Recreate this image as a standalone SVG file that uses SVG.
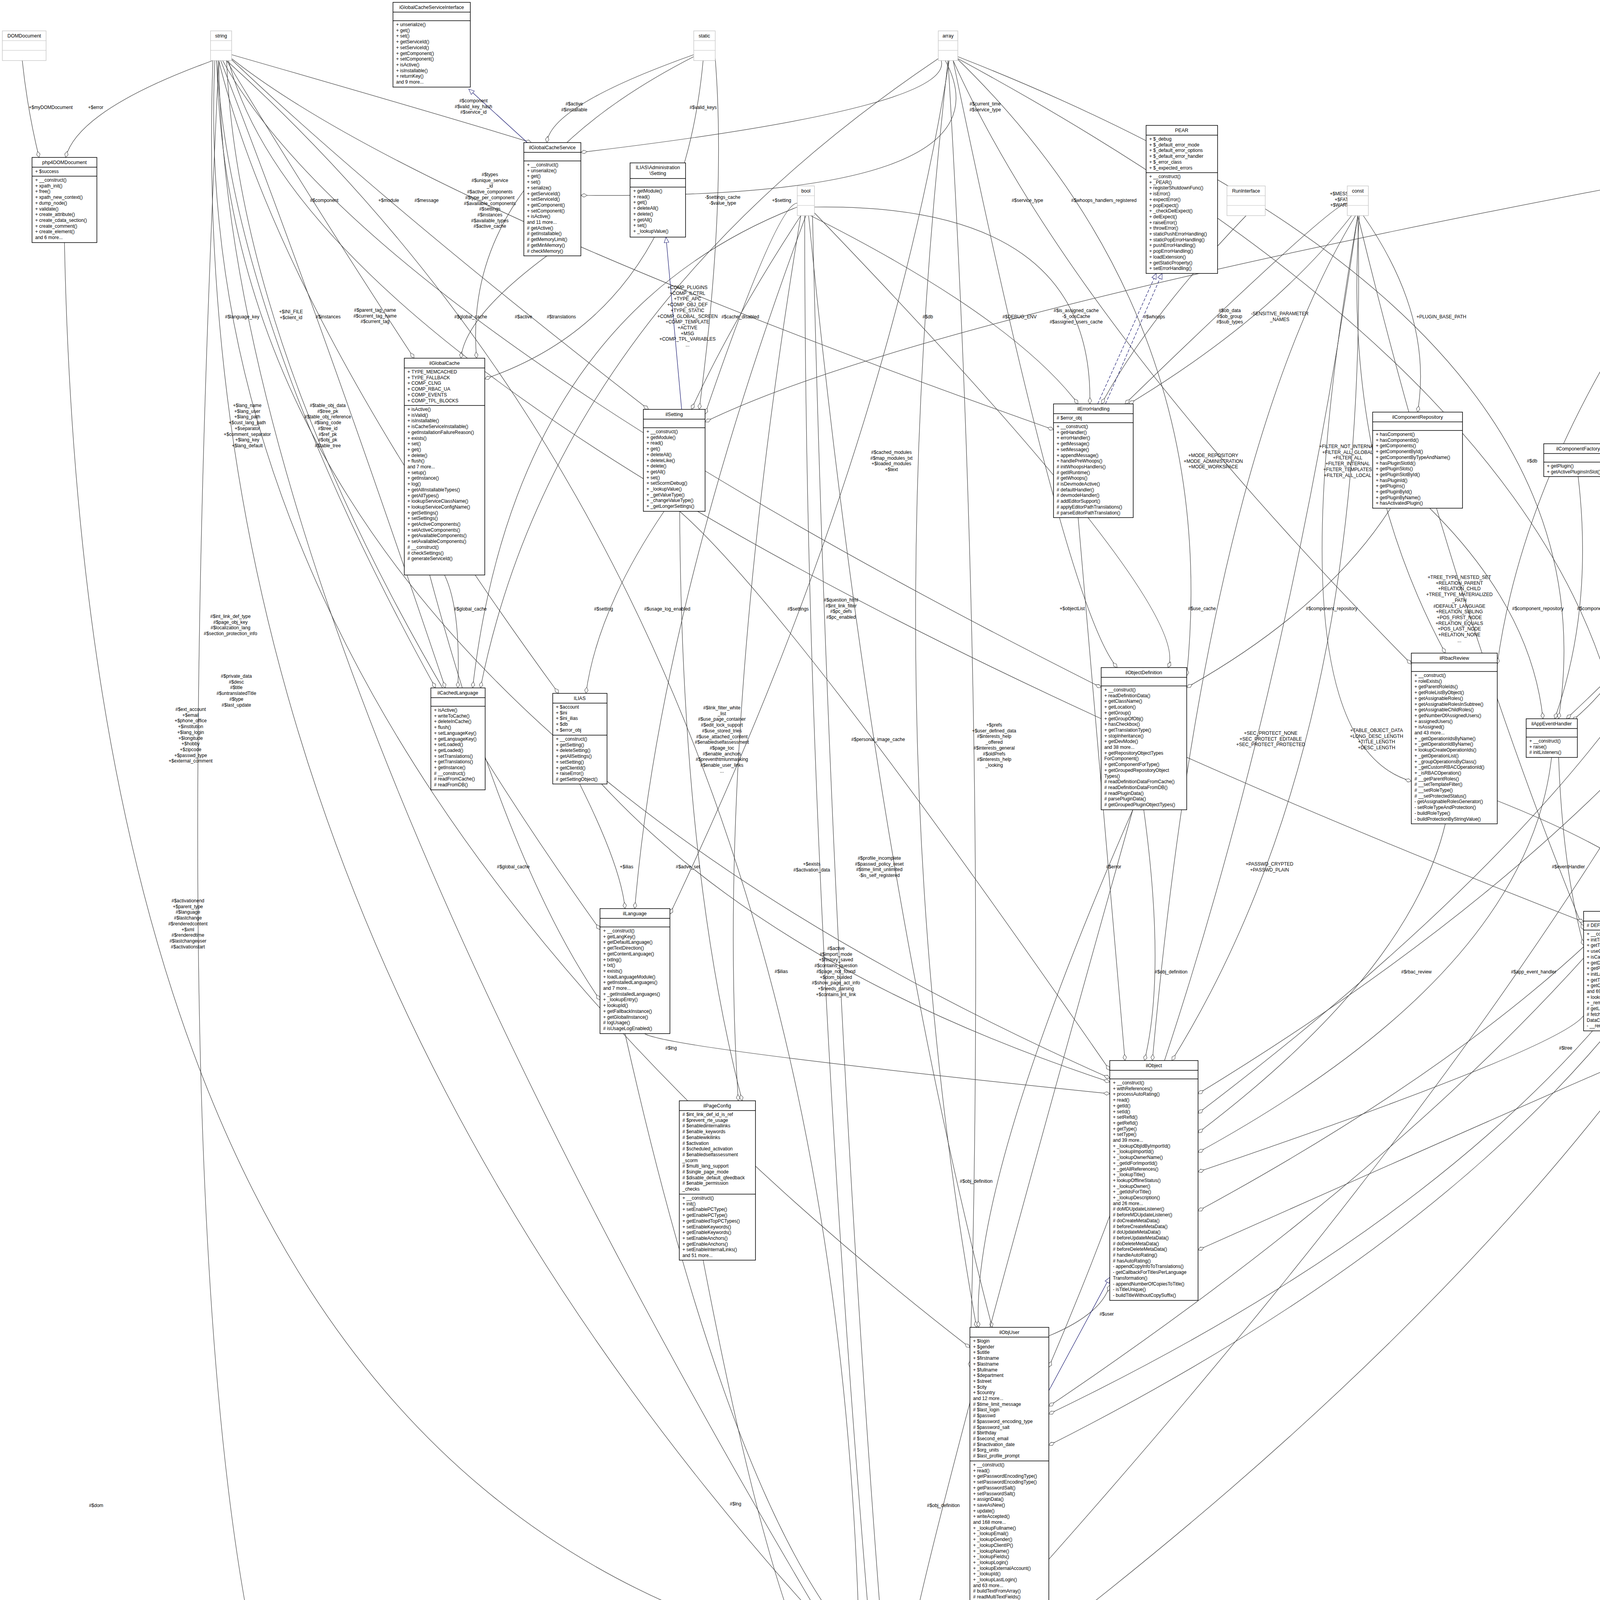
<svg xmlns="http://www.w3.org/2000/svg" width="5668" height="4920" viewBox="0 0 5668 4920">
<style>
.b{fill:#fff;stroke:#000;stroke-width:1.5}
.g{fill:#fff;stroke:#bfbfbf;stroke-width:1.2}
.sep{fill:none;stroke:#000;stroke-width:1.5}
.sepg{fill:none;stroke:#bfbfbf;stroke-width:1.2}
.t{font-family:"Liberation Sans",Arial,sans-serif;font-size:12.5px;text-anchor:middle;fill:#000}
.m{font-family:"Liberation Sans",Arial,sans-serif;font-size:12px;fill:#000}
.l{font-family:"Liberation Sans",Arial,sans-serif;font-size:12px;text-anchor:middle;fill:#000}
.e{fill:none;stroke:#404040;stroke-width:1.2;marker-end:url(#d)}
.i{fill:none;stroke:#191970;stroke-width:1.2;marker-end:url(#tr)}
</style>
<defs>
<marker id="d" markerWidth="18" markerHeight="12" refX="17" refY="6" orient="auto" markerUnits="userSpaceOnUse"><path d="M1,6 L9,1.5 L17,6 L9,10.5 Z" fill="#fff" stroke="#404040"/></marker>
<marker id="tr" markerWidth="16" markerHeight="14" refX="15" refY="7" orient="auto" markerUnits="userSpaceOnUse"><path d="M1,1 L15,7 L1,13 Z" fill="#fff" stroke="#191970"/></marker>
</defs>
<rect width="5668" height="4920" fill="#fff"/>

<g id="connectors">
<path class="e" d="M57,155 Q70,280 100,403"/>
<path class="e" d="M545,155 Q200,280 168,403"/>
<path class="e" d="M593,140 Q1150,300 1360,365"/>
<path class="e" d="M1776,140 Q1410,270 1400,365"/>
<path class="e" d="M1776,145 Q1180,450 1220,917"/>
<path class="e" d="M580,155 Q800,520 1060,917"/>
<path class="e" d="M590,150 Q980,520 1660,1048"/>
<path class="e" d="M593,150 Q1060,520 2697,1100"/>
<path class="e" d="M1831,150 Q1860,520 1790,1048"/>
<path class="e" d="M555,155 Q590,811 1115,1761"/>
<path class="e" d="M560,155 Q720,805 1430,1775"/>
<path class="e" d="M565,155 Q820,811 1140,1761"/>
<path class="e" d="M570,155 Q930,810 2819,1760"/>
<path class="e" d="M1138,1472 Q1180,1559 1172,1761"/>
<path class="e" d="M2041,530 Q1320,811 1210,1761"/>
<path class="e" d="M2402,150 Q1420,811 1230,1761"/>
<path class="e" d="M1800,155 Q1740,800 1241,970"/>
<path class="e" d="M2402,140 Q2500,270 1487,390"/>
<path class="e" d="M2041,520 Q1990,520 1805,1060"/>
<path class="e" d="M2420,155 Q2610,513 1487,500"/>
<path class="e" d="M2085,530 Q2800,520 2790,1034"/>
<path class="e" d="M3449,520 Q3420,511 2880,1034"/>
<path class="e" d="M2050,552 Q1880,811 1770,1048"/>
<path class="e" d="M4290,450 Q2360,811 1805,1080"/>
<path class="e" d="M2075,552 Q2590,811 2760,1034"/>
<path class="e" d="M2440,155 Q2735,810 3613,1700"/>
<path class="e" d="M3190,552 Q2940,811 2820,1034"/>
<path class="e" d="M2450,150 Q3130,810 3038,1730"/>
<path class="e" d="M3460,552 Q3260,810 2890,1034"/>
<path class="e" d="M3490,552 Q3670,811 3629,1055"/>
<path class="e" d="M2430,155 Q2265,1180 1715,2340"/>
<path class="e" d="M3470,552 Q3090,1180 2950,2715"/>
<path class="e" d="M3480,552 Q3435,1180 3700,1672"/>
<path class="e" d="M2452,145 Q4150,811 3990,1840"/>
<path class="e" d="M4581,552 Q4590,811 4567,1070"/>
<path class="e" d="M4300,634 Q3905,1180 3833,1700"/>
<path class="e" d="M4380,634 Q4250,1180 4120,2333"/>
<path class="e" d="M2452,150 Q4355,1180 4150,2333"/>
<path class="e" d="M4800,155 Q4685,1180 4250,2360"/>
<path class="e" d="M1400,655 Q1190,811 1180,917"/>
<path class="e" d="M1700,1309 Q1530,1559 1500,1775"/>
<path class="e" d="M2063,552 Q1690,1559 1625,2326"/>
<path class="e" d="M1740,1309 Q2025,1559 2841,2740"/>
<path class="e" d="M580,155 Q2135,1558 2200,4212"/>
<path class="e" d="M2050,552 Q1830,1890 1890,2818"/>
<path class="e" d="M2427,155 Q2230,1893 2500,3398"/>
<path class="e" d="M1484,2007 Q1590,2219 1600,2326"/>
<path class="e" d="M1740,1309 Q1745,2219 1900,2818"/>
<path class="e" d="M2060,552 Q2060,2220 2230,4212"/>
<path class="e" d="M2070,552 Q2235,2220 2540,3398"/>
<path class="e" d="M1540,2007 Q1985,2487 2841,2770"/>
<path class="e" d="M2080,552 Q2125,2487 2260,4212"/>
<path class="e" d="M1100,1472 Q1300,2219 1536,2560"/>
<path class="e" d="M1650,2646 Q1705,2683 2841,2800"/>
<path class="e" d="M2440,155 Q2730,1558 2860,1709"/>
<path class="e" d="M2085,545 Q3060,1558 2990,1709"/>
<path class="e" d="M3560,1301 Q3395,1558 3038,1760"/>
<path class="e" d="M3476,552 Q3720,1560 4054,2380"/>
<path class="e" d="M3660,1301 Q3920,1558 3950,1840"/>
<path class="e" d="M4040,1220 Q4080,1558 3980,1840"/>
<path class="e" d="M2427,155 Q2530,1900 2483,3500"/>
<path class="e" d="M3476,552 Q3240,1892 3613,2000"/>
<path class="e" d="M3476,552 Q3510,1892 3000,2715"/>
<path class="e" d="M2760,1325 Q2840,2219 2880,2715"/>
<path class="e" d="M3476,552 Q3235,2219 2685,3500"/>
<path class="e" d="M3990,1939 Q4000,2219 4054,2420"/>
<path class="e" d="M2928,2073 Q2985,2488 2930,2715"/>
<path class="e" d="M3700,2109 Q3610,2488 3067,2900"/>
<path class="e" d="M3972,1939 Q3910,2488 3067,2950"/>
<path class="e" d="M4054,2600 Q3995,2683 3067,3000"/>
<path class="e" d="M4520,1287 Q4312,1558 4010,1840"/>
<path class="e" d="M4380,634 Q4372,1558 4025,1845"/>
<path class="e" d="M4540,1287 Q4450,1558 4250,2380"/>
<path class="e" d="M4450,634 Q4770,1558 3067,2850"/>
<path class="e" d="M4815,155 Q4920,1558 2407,4300"/>
<path class="e" d="M4825,150 Q5100,1558 3067,2800"/>
<path class="e" d="M4530,1287 Q4205,1892 4120,2333"/>
<path class="e" d="M4570,1287 Q4490,1892 4470,2362"/>
<path class="e" d="M4600,1287 Q4578,1892 4540,2362"/>
<path class="e" d="M4500,634 Q4890,1892 4568,2400"/>
<path class="e" d="M4829,145 Q5220,1893 2685,3600"/>
<path class="e" d="M3833,2050 Q4260,2219 4379,2400"/>
<path class="e" d="M4330,2000 Q4378,2219 4250,2380"/>
<path class="e" d="M4620,1280 Q4690,2219 3067,3100"/>
<path class="e" d="M4829,150 Q5390,2220 2407,4400"/>
<path class="e" d="M4525,600 Q5090,2487 2685,3700"/>
<path class="e" d="M4420,2608 Q4228,2683 3067,3200"/>
<path class="e" d="M4600,1287 Q4632,2683 2685,3620"/>
<path class="e" d="M5411,3811 Q5300,4200 2407,4500"/>
<path class="e" d="M5563,3871 Q5450,4210 2407,4510"/>
<path class="e" d="M2530,4159 Q2430,4179 2390,4212"/>
<path class="e" d="M2685,3420 Q2820,3364 2841,3290"/>
<path class="e" d="M165,621 Q230,3854 2172,4250"/>
<path class="e" d="M560,155 Q370,4110 850,4765"/>
<path class="e" d="M1600,2646 Q1870,3850 2190,4212"/>
<path class="e" d="M1800,3226 Q2010,4324 2172,4400"/>
<path class="e" d="M2900,2073 Q2485,3024 2505,3398"/>
<path class="e" d="M2900,2073 Q2400,3854 2330,4212"/>
<path class="e" d="M580,155 Q620,1100 1536,2380"/>
<path class="e" d="M585,155 Q825,1100 4054,2360"/>
<path class="e" d="M560,155 Q575,1600 2172,4260"/>
<path class="e" d="M555,155 Q590,1760 2841,2760"/>
<path class="e" d="M550,155 Q470,1890 2483,3450"/>
<path class="e" d="M545,155 Q465,2400 2172,4230"/>
<path class="i" d="M1350,365 L1200,228"/>
<path class="i" d="M1745,1048 L1705,607"/>
<path class="i" d="M2810,1034 L2960,700" stroke-dasharray="8,4"/>
<path class="i" d="M2830,1034 L2975,700" stroke-dasharray="8,4"/>
<path class="i" d="M2685,3560 L2841,3270"/>
<path class="i" d="M988,4810 L2172,4515"/>
<path class="i" d="M5556,3669 L5556,3131"/>
</g>

<g id="labels">
<text class="l" x="130" y="279">+$myDOMDocument</text>
<text class="l" x="245" y="279">+$error</text>
<text class="l" x="1212" y="262"><tspan x="1212">#$component</tspan><tspan x="1212" dy="14.7">#$valid_key_hash</tspan><tspan x="1212" dy="14.7">#$service_id</tspan></text>
<text class="l" x="1470" y="270"><tspan x="1470">#$active</tspan><tspan x="1470" dy="14.7">#$installable</tspan></text>
<text class="l" x="1800" y="279">#$valid_keys</text>
<text class="l" y="451"><tspan x="1254">#$types</tspan><tspan x="1254" dy="14.7">#$unique_service</tspan><tspan x="1254" dy="14.7">_id</tspan><tspan x="1254" dy="14.7">#$active_components</tspan><tspan x="1254" dy="14.7">#$type_per_component</tspan><tspan x="1254" dy="14.7">#$available_components</tspan><tspan x="1254" dy="14.7">#$settings</tspan><tspan x="1254" dy="14.7">#$instances</tspan><tspan x="1254" dy="14.7">#$available_types</tspan><tspan x="1254" dy="14.7">#$active_cache</tspan></text>
<text class="l" x="830" y="517">#$component</text>
<text class="l" x="995" y="517">+$module</text>
<text class="l" x="1092" y="517">#$message</text>
<text class="l" y="509"><tspan x="1850">-$settings_cache</tspan><tspan x="1850" dy="14.7">-$value_type</tspan></text>
<text class="l" x="620" y="815">#$language_key</text>
<text class="l" y="802"><tspan x="745">+$INI_FILE</tspan><tspan x="745" dy="14.7">+$client_id</tspan></text>
<text class="l" x="840" y="815">#$instances</text>
<text class="l" y="798"><tspan x="960">#$parent_tag_name</tspan><tspan x="960" dy="14.7">#$current_tag_name</tspan><tspan x="960" dy="14.7">#$current_tag</tspan></text>
<text class="l" x="1205" y="815">#$global_cache</text>
<text class="l" x="1340" y="815">#$active</text>
<text class="l" x="1437" y="815">#$translations</text>
<text class="l" y="740"><tspan x="1760">+COMP_PLUGINS</tspan><tspan x="1760" dy="14.7">+COMP_ILCTRL</tspan><tspan x="1760" dy="14.7">+TYPE_APC</tspan><tspan x="1760" dy="14.7">+COMP_OBJ_DEF</tspan><tspan x="1760" dy="14.7">+TYPE_STATIC</tspan><tspan x="1760" dy="14.7">+COMP_GLOBAL_SCREEN</tspan><tspan x="1760" dy="14.7">+COMP_TEMPLATE</tspan><tspan x="1760" dy="14.7">+ACTIVE</tspan><tspan x="1760" dy="14.7">+MSG</tspan><tspan x="1760" dy="14.7">+COMP_TPL_VARIABLES</tspan><tspan x="1760" dy="14.7">...</tspan></text>
<text class="l" y="270"><tspan x="2522">#$current_time</tspan><tspan x="2522" dy="14.7">#$service_type</tspan></text>
<text class="l" x="2001" y="517">+$setting</text>
<text class="l" x="2630" y="517">#$service_type</text>
<text class="l" x="2826" y="517">#$whoops_handlers_registered</text>
<text class="l" y="500"><tspan x="3441">+$MESSAGE</tspan><tspan x="3441" dy="14.7">+$FATAL</tspan><tspan x="3441" dy="14.7">+$WARNING</tspan></text>
<text class="l" x="1895" y="815">#$cache_disabled</text>
<text class="l" x="2375" y="815">#$db</text>
<text class="l" x="2610" y="815">#$DEBUG_ENV</text>
<text class="l" y="799"><tspan x="2755">#$is_assigned_cache</tspan><tspan x="2755" dy="14.7">-$_oosCache</tspan><tspan x="2755" dy="14.7">#$assigned_users_cache</tspan></text>
<text class="l" x="2955" y="815">#$whoops</text>
<text class="l" y="799"><tspan x="3148">#$ob_data</tspan><tspan x="3148" dy="14.7">#$ob_group</tspan><tspan x="3148" dy="14.7">#$sub_types</tspan></text>
<text class="l" y="807"><tspan x="3276">-SENSITIVE_PARAMETER</tspan><tspan x="3276" dy="14.7">_NAMES</tspan></text>
<text class="l" x="3690" y="815">+PLUGIN_BASE_PATH</text>
<text class="l" y="1162"><tspan x="2282">#$cached_modules</tspan><tspan x="2282" dy="14.7">#$map_modules_txt</tspan><tspan x="2282" dy="14.7">+$loaded_modules</tspan><tspan x="2282" dy="14.7">+$text</tspan></text>
<text class="l" y="1170"><tspan x="3106">+MODE_REPOSITORY</tspan><tspan x="3106" dy="14.7">+MODE_ADMINISTRATION</tspan><tspan x="3106" dy="14.7">+MODE_WORKSPACE</tspan></text>
<text class="l" y="1147"><tspan x="3450">+FILTER_NOT_INTERNAL</tspan><tspan x="3450" dy="14.7">+FILTER_ALL_GLOBAL</tspan><tspan x="3450" dy="14.7">+FILTER_ALL</tspan><tspan x="3450" dy="14.7">+FILTER_INTERNAL</tspan><tspan x="3450" dy="14.7">+FILTER_TEMPLATES</tspan><tspan x="3450" dy="14.7">+FILTER_ALL_LOCAL</tspan></text>
<text class="l" x="4163" y="815">#$listener</text>
<text class="l" x="4604" y="815">-$logger</text>
<text class="l" x="3922" y="1184">#$db</text>
<text class="l" x="4265" y="1184">#$db</text>
<text class="l" y="1134"><tspan x="4373">#$oc_preloaded</tspan><tspan x="4373" dy="14.7">#$translation_cache</tspan><tspan x="4373" dy="14.7">#$is_saved_cache</tspan><tspan x="4373" dy="14.7">#$in_tree_cache</tspan><tspan x="4373" dy="14.7">-$path_id_cache</tspan><tspan x="4373" dy="14.7">#$parent_cache</tspan><tspan x="4373" dy="14.7">#$parent_type_cache</tspan><tspan x="4373" dy="14.7">#$depth_cache</tspan></text>
<text class="l" y="1170"><tspan x="4700">#$tree_id</tspan><tspan x="4700" dy="14.7">-$gap</tspan><tspan x="4700" dy="14.7">#$root_id</tspan></text>
<text class="l" x="1204" y="1563">#$global_cache</text>
<text class="l" x="1545" y="1563">#$setting</text>
<text class="l" x="1708" y="1563">#$usage_log_enabled</text>
<text class="l" x="2043" y="1563">#$settings</text>
<text class="l" y="1540"><tspan x="2153">#$question_html</tspan><tspan x="2153" dy="14.7">#$int_link_filter</tspan><tspan x="2153" dy="14.7">#$pc_defs</tspan><tspan x="2153" dy="14.7">#$pc_enabled</tspan></text>
<text class="l" y="1816"><tspan x="1848">#$link_filter_white</tspan><tspan x="1848" dy="14.7">_list</tspan><tspan x="1848" dy="14.7">#$use_page_container</tspan><tspan x="1848" dy="14.7">#$edit_lock_support</tspan><tspan x="1848" dy="14.7">#$use_stored_tries</tspan><tspan x="1848" dy="14.7">#$use_attached_content</tspan><tspan x="1848" dy="14.7">#$enabledselfassessment</tspan><tspan x="1848" dy="14.7">#$page_toc</tspan><tspan x="1848" dy="14.7">#$enable_anchors</tspan><tspan x="1848" dy="14.7">#$preventhtmlunmasking</tspan><tspan x="1848" dy="14.7">#$enable_user_links</tspan><tspan x="1848" dy="14.7">...</tspan></text>
<text class="l" x="2248" y="1897">#$personal_image_cache</text>
<text class="l" x="1314" y="2223">#$global_cache</text>
<text class="l" x="1604" y="2223">+$ilias</text>
<text class="l" x="1761" y="2223">#$adve_set</text>
<text class="l" y="2216"><tspan x="2078">+$exists</tspan><tspan x="2078" dy="14.7">#$activation_data</tspan></text>
<text class="l" y="2201"><tspan x="2251">#$profile_incomplete</tspan><tspan x="2251" dy="14.7">#$passwd_policy_reset</tspan><tspan x="2251" dy="14.7">#$time_limit_unlimited</tspan><tspan x="2251" dy="14.7">-$is_self_registered</tspan></text>
<text class="l" x="2000" y="2491">#$ilias</text>
<text class="l" y="2432"><tspan x="2140">#$active</tspan><tspan x="2140" dy="14.7">#$import_mode</tspan><tspan x="2140" dy="14.7">+$history_saved</tspan><tspan x="2140" dy="14.7">#$contains_question</tspan><tspan x="2140" dy="14.7">#$page_not_found</tspan><tspan x="2140" dy="14.7">+$dom_builded</tspan><tspan x="2140" dy="14.7">#$show_page_act_info</tspan><tspan x="2140" dy="14.7">+$needs_parsing</tspan><tspan x="2140" dy="14.7">+$contains_int_link</tspan></text>
<text class="l" x="1718" y="2687">#$lng</text>
<text class="l" x="2745" y="1562">+$objectList</text>
<text class="l" x="3077" y="1562">#$use_cache</text>
<text class="l" x="3409" y="1562">#$component_repository</text>
<text class="l" y="1482"><tspan x="3736">+TREE_TYPE_NESTED_SET</tspan><tspan x="3736" dy="14.7">+RELATION_PARENT</tspan><tspan x="3736" dy="14.7">+RELATION_CHILD</tspan><tspan x="3736" dy="14.7">+TREE_TYPE_MATERIALIZED</tspan><tspan x="3736" dy="14.7">_PATH</tspan><tspan x="3736" dy="14.7">#DEFAULT_LANGUAGE</tspan><tspan x="3736" dy="14.7">+RELATION_SIBLING</tspan><tspan x="3736" dy="14.7">+POS_FIRST_NODE</tspan><tspan x="3736" dy="14.7">+RELATION_EQUALS</tspan><tspan x="3736" dy="14.7">+POS_LAST_NODE</tspan><tspan x="3736" dy="14.7">+RELATION_NONE</tspan><tspan x="3736" dy="14.7">...</tspan></text>
<text class="l" x="3937" y="1562">#$component_repository</text>
<text class="l" x="4095" y="1562">#$component_factory</text>
<text class="l" y="1860"><tspan x="2545">+$prefs</tspan><tspan x="2545" dy="14.7">+$user_defined_data</tspan><tspan x="2545" dy="14.7">#$interests_help</tspan><tspan x="2545" dy="14.7">_offered</tspan><tspan x="2545" dy="14.7">#$interests_general</tspan><tspan x="2545" dy="14.7">#$oldPrefs</tspan><tspan x="2545" dy="14.7">#$interests_help</tspan><tspan x="2545" dy="14.7">_looking</tspan></text>
<text class="l" y="1881"><tspan x="3253">+SEC_PROTECT_NONE</tspan><tspan x="3253" dy="14.7">+SEC_PROTECT_EDITABLE</tspan><tspan x="3253" dy="14.7">+SEC_PROTECT_PROTECTED</tspan></text>
<text class="l" y="1874"><tspan x="3524">+TABLE_OBJECT_DATA</tspan><tspan x="3524" dy="14.7">+LONG_DESC_LENGTH</tspan><tspan x="3524" dy="14.7">+TITLE_LENGTH</tspan><tspan x="3524" dy="14.7">+DESC_LENGTH</tspan></text>
<text class="l" x="2851" y="2223">#$error</text>
<text class="l" y="2216"><tspan x="3250">+PASSWD_CRYPTED</tspan><tspan x="3250" dy="14.7">+PASSWD_PLAIN</tspan></text>
<text class="l" x="4015" y="2223">#$eventHandler</text>
<text class="l" x="2998" y="2492">#$obj_definition</text>
<text class="l" x="3626" y="2492">#$rbac_review</text>
<text class="l" x="3926" y="2492">#$app_event_handler</text>
<text class="l" x="4008" y="2687">#$tree</text>
<text class="l" x="4326" y="1562">#$log</text>
<text class="l" x="4385" y="1562">#$db</text>
<text class="l" x="4465" y="1562">#$logger</text>
<text class="l" x="4783" y="1562">#$db</text>
<text class="l" y="1555"><tspan x="4937">#$int_link_def_id</tspan><tspan x="4937" dy="14.7">#$section_protection</tspan></text>
<text class="l" y="1533"><tspan x="5115">#$ref_id</tspan><tspan x="5115" dy="14.7">#$max_desc</tspan><tspan x="5115" dy="14.7">#$max_title</tspan><tspan x="5115" dy="14.7">#$owner</tspan><tspan x="5115" dy="14.7">#$id</tspan></text>
<text class="l" x="4219" y="1896">#$log</text>
<text class="l" x="4505" y="1896">#$logger</text>
<text class="l" x="4592" y="1896">#$logger</text>
<text class="l" x="4904" y="1896">#$db</text>
<text class="l" y="1860"><tspan x="5236">#$time_limit_owner</tspan><tspan x="5236" dy="14.7">+$active</tspan><tspan x="5236" dy="14.7">#$time_limit_from</tspan><tspan x="5236" dy="14.7">#$time_limit_until</tspan><tspan x="5236" dy="14.7">+$login_attempts</tspan><tspan x="5236" dy="14.7">+$last_password_change_ts</tspan></text>
<text class="l" x="4277" y="2223">#$rbacreview</text>
<text class="l" x="4392" y="2223">-$tree_impl</text>
<text class="l" y="2216"><tspan x="4702">#$obj_log</tspan><tspan x="4702" dy="14.7">#$log</tspan></text>
<text class="l" y="2179"><tspan x="5404">+$parent_id</tspan><tspan x="5404" dy="14.7">#$create_user</tspan><tspan x="5404" dy="14.7">+$update_listener</tspan><tspan x="5404" dy="14.7">_cnt</tspan><tspan x="5404" dy="14.7">+$last_change_user</tspan><tspan x="5404" dy="14.7">#$id</tspan><tspan x="5404" dy="14.7">+$old_nr</tspan></text>
<text class="l" x="5102" y="2491">#$db</text>
<text class="l" x="4241" y="2687">#$rbac_admin</text>
<text class="l" x="4646" y="2687">#$log</text>
<text class="l" x="5422" y="4182">+$offline_handler</text>
<text class="l" x="5512" y="4182">+$node</text>
<text class="l" x="2450" y="4183">#$user</text>
<text class="l" x="2833" y="3368">#$user</text>
<text class="l" x="246" y="3858">#$dom</text>
<text class="l" x="387" y="4114">#$reading_time_manager</text>
<text class="l" x="1883" y="3854">#$lng</text>
<text class="l" x="2024" y="4328">#$page_config</text>
<text class="l" x="2499" y="3028">#$obj_definition</text>
<text class="l" x="2415" y="3858">#$obj_definition</text>
<text class="l" y="1042"><tspan x="633">+$lang_name</tspan><tspan x="633" dy="14.7">+$lang_user</tspan><tspan x="633" dy="14.7">+$lang_path</tspan><tspan x="633" dy="14.7">+$cust_lang_path</tspan><tspan x="633" dy="14.7">+$separator</tspan><tspan x="633" dy="14.7">+$comment_separator</tspan><tspan x="633" dy="14.7">+$lang_key</tspan><tspan x="633" dy="14.7">+$lang_default</tspan></text>
<text class="l" y="1042"><tspan x="839">#$table_obj_data</tspan><tspan x="839" dy="14.7">#$tree_pk</tspan><tspan x="839" dy="14.7">#$table_obj_reference</tspan><tspan x="839" dy="14.7">#$lang_code</tspan><tspan x="839" dy="14.7">#$tree_id</tspan><tspan x="839" dy="14.7">#$ref_pk</tspan><tspan x="839" dy="14.7">#$obj_pk</tspan><tspan x="839" dy="14.7">#$table_tree</tspan></text>
<text class="l" y="1582"><tspan x="590">#$int_link_def_type</tspan><tspan x="590" dy="14.7">#$page_obj_key</tspan><tspan x="590" dy="14.7">#$localization_lang</tspan><tspan x="590" dy="14.7">#$section_protection_info</tspan></text>
<text class="l" y="1735"><tspan x="605">#$private_data</tspan><tspan x="605" dy="14.7">#$desc</tspan><tspan x="605" dy="14.7">#$title</tspan><tspan x="605" dy="14.7">#$untranslatedTitle</tspan><tspan x="605" dy="14.7">#$type</tspan><tspan x="605" dy="14.7">#$last_update</tspan></text>
<text class="l" y="1820"><tspan x="488">#$ext_account</tspan><tspan x="488" dy="14.7">+$email</tspan><tspan x="488" dy="14.7">+$phone_office</tspan><tspan x="488" dy="14.7">+$institution</tspan><tspan x="488" dy="14.7">+$lang_login</tspan><tspan x="488" dy="14.7">+$longitude</tspan><tspan x="488" dy="14.7">+$hobby</tspan><tspan x="488" dy="14.7">+$zipcode</tspan><tspan x="488" dy="14.7">+$passwd_type</tspan><tspan x="488" dy="14.7">+$external_comment</tspan></text>
<text class="l" y="2310"><tspan x="481">#$activationend</tspan><tspan x="481" dy="14.7">+$parent_type</tspan><tspan x="481" dy="14.7">#$language</tspan><tspan x="481" dy="14.7">#$lastchange</tspan><tspan x="481" dy="14.7">#$renderedcontent</tspan><tspan x="481" dy="14.7">+$xml</tspan><tspan x="481" dy="14.7">#$renderedtime</tspan><tspan x="481" dy="14.7">#$lastchangeuser</tspan><tspan x="481" dy="14.7">#$activationstart</tspan></text>
</g>

<g id="DOMDocument"><rect class="g" x="6" y="79" width="112" height="76"/><path class="sepg" d="M6,104h112M6,129h112"/><text class="t" x="62" y="96">DOMDocument</text></g>
<g id="string"><rect class="g" x="539" y="79" width="54" height="76"/><path class="sepg" d="M539,104h54M539,129h54"/><text class="t" x="566" y="96">string</text></g>
<g id="static"><rect class="g" x="1776" y="79" width="55" height="76"/><path class="sepg" d="M1776,104h55M1776,129h55"/><text class="t" x="1803" y="96">static</text></g>
<g id="array"><rect class="g" x="2402" y="79" width="50" height="76"/><path class="sepg" d="M2402,104h50M2402,129h50"/><text class="t" x="2427" y="96">array</text></g>
<g id="int"><rect class="g" x="4790" y="79" width="39" height="76"/><path class="sepg" d="M4790,104h39M4790,129h39"/><text class="t" x="4809" y="96">int</text></g>
<g id="bool"><rect class="g" x="2041" y="476" width="44" height="76"/><path class="sepg" d="M2041,501h44M2041,526h44"/><text class="t" x="2063" y="493">bool</text></g>
<g id="RunInterface"><rect class="g" x="3141" y="476" width="98" height="76"/><path class="sepg" d="M3141,501h98M3141,526h98"/><text class="t" x="3190" y="493">RunInterface</text></g>
<g id="const"><rect class="g" x="3449" y="476" width="54" height="76"/><path class="sepg" d="M3449,501h54M3449,526h54"/><text class="t" x="3476" y="493">const</text></g>
<g id="Logger"><rect class="g" x="4550" y="476" width="62" height="76"/><path class="sepg" d="M4550,501h62M4550,526h62"/><text class="t" x="4581" y="493">Logger</text></g>
<g id="object"><rect class="g" x="5382" y="3735" width="58" height="76"/><path class="sepg" d="M5382,3760h58M5382,3785h58"/><text class="t" x="5411" y="3752">object</text></g>

<g id="iGlobalCacheServiceInterface"><rect class="b" x="1006" y="6" width="198" height="217"/><path class="sep" d="M1006,31h198M1006,53h198"/><text class="t" x="1105" y="23">iGlobalCacheServiceInterface</text>
<text class="m" y="67"><tspan x="1014">+ unserialize()</tspan><tspan x="1014" dy="14.7">+ get()</tspan><tspan x="1014" dy="14.7">+ set()</tspan><tspan x="1014" dy="14.7">+ getServiceId()</tspan><tspan x="1014" dy="14.7">+ setServiceId()</tspan><tspan x="1014" dy="14.7">+ getComponent()</tspan><tspan x="1014" dy="14.7">+ setComponent()</tspan><tspan x="1014" dy="14.7">+ isActive()</tspan><tspan x="1014" dy="14.7">+ isInstallable()</tspan><tspan x="1014" dy="14.7">+ returnKey()</tspan><tspan x="1014" dy="14.7">and 9 more...</tspan></text></g>

<g id="php4DOMDocument"><rect class="b" x="82" y="403" width="166" height="218"/><path class="sep" d="M82,428h166M82,451h166"/><text class="t" x="165" y="420">php4DOMDocument</text>
<text class="m" x="90" y="443">+ $success</text>
<text class="m" y="465"><tspan x="90">+ __construct()</tspan><tspan x="90" dy="14.7">+ xpath_init()</tspan><tspan x="90" dy="14.7">+ free()</tspan><tspan x="90" dy="14.7">+ xpath_new_context()</tspan><tspan x="90" dy="14.7">+ dump_node()</tspan><tspan x="90" dy="14.7">+ validate()</tspan><tspan x="90" dy="14.7">+ create_attribute()</tspan><tspan x="90" dy="14.7">+ create_cdata_section()</tspan><tspan x="90" dy="14.7">+ create_comment()</tspan><tspan x="90" dy="14.7">+ create_element()</tspan><tspan x="90" dy="14.7">and 6 more...</tspan></text></g>

<g id="ilGlobalCacheService"><rect class="b" x="1341" y="365" width="146" height="290"/><path class="sep" d="M1341,390h146M1341,412h146"/><text class="t" x="1414" y="382">ilGlobalCacheService</text>
<text class="m" y="426"><tspan x="1349">+ __construct()</tspan><tspan x="1349" dy="14.7">+ unserialize()</tspan><tspan x="1349" dy="14.7">+ get()</tspan><tspan x="1349" dy="14.7">+ set()</tspan><tspan x="1349" dy="14.7">+ serialize()</tspan><tspan x="1349" dy="14.7">+ getServiceId()</tspan><tspan x="1349" dy="14.7">+ setServiceId()</tspan><tspan x="1349" dy="14.7">+ getComponent()</tspan><tspan x="1349" dy="14.7">+ setComponent()</tspan><tspan x="1349" dy="14.7">+ isActive()</tspan><tspan x="1349" dy="14.7">and 11 more...</tspan><tspan x="1349" dy="14.7"># getActive()</tspan><tspan x="1349" dy="14.7"># getInstallable()</tspan><tspan x="1349" dy="14.7"># getMemoryLimit()</tspan><tspan x="1349" dy="14.7"># getMinMemory()</tspan><tspan x="1349" dy="14.7"># checkMemory()</tspan></text></g>

<g id="ILIAS_Administration_Setting"><rect class="b" x="1613" y="417" width="142" height="190"/><path class="sep" d="M1613,457h142M1613,479h142"/><text class="t" y="433"><tspan x="1684">ILIAS\Administration</tspan><tspan x="1684" dy="15">\Setting</tspan></text>
<text class="m" y="493"><tspan x="1621">+ getModule()</tspan><tspan x="1621" dy="14.7">+ read()</tspan><tspan x="1621" dy="14.7">+ get()</tspan><tspan x="1621" dy="14.7">+ deleteAll()</tspan><tspan x="1621" dy="14.7">+ delete()</tspan><tspan x="1621" dy="14.7">+ getAll()</tspan><tspan x="1621" dy="14.7">+ set()</tspan><tspan x="1621" dy="14.7">+ _lookupValue()</tspan></text></g>

<g id="PEAR"><rect class="b" x="2934" y="321" width="183" height="379"/><path class="sep" d="M2934,346h183M2934,442h183"/><text class="t" x="3025" y="338">PEAR</text>
<text class="m" y="360"><tspan x="2942">+ $_debug</tspan><tspan x="2942" dy="14.7">+ $_default_error_mode</tspan><tspan x="2942" dy="14.7">+ $_default_error_options</tspan><tspan x="2942" dy="14.7">+ $_default_error_handler</tspan><tspan x="2942" dy="14.7">+ $_error_class</tspan><tspan x="2942" dy="14.7">+ $_expected_errors</tspan></text>
<text class="m" y="456"><tspan x="2942">+ __construct()</tspan><tspan x="2942" dy="14.7">+ _PEAR()</tspan><tspan x="2942" dy="14.7">+ registerShutdownFunc()</tspan><tspan x="2942" dy="14.7">+ isError()</tspan><tspan x="2942" dy="14.7">+ expectError()</tspan><tspan x="2942" dy="14.7">+ popExpect()</tspan><tspan x="2942" dy="14.7">+ _checkDelExpect()</tspan><tspan x="2942" dy="14.7">+ delExpect()</tspan><tspan x="2942" dy="14.7">+ raiseError()</tspan><tspan x="2942" dy="14.7">+ throwError()</tspan><tspan x="2942" dy="14.7">+ staticPushErrorHandling()</tspan><tspan x="2942" dy="14.7">+ staticPopErrorHandling()</tspan><tspan x="2942" dy="14.7">+ pushErrorHandling()</tspan><tspan x="2942" dy="14.7">+ popErrorHandling()</tspan><tspan x="2942" dy="14.7">+ loadExtension()</tspan><tspan x="2942" dy="14.7">+ getStaticProperty()</tspan><tspan x="2942" dy="14.7">+ setErrorHandling()</tspan></text></g>

<g id="ilErrorHandling"><rect class="b" x="2697" y="1034" width="204" height="291"/><path class="sep" d="M2697,1059h204M2697,1082h204"/><text class="t" x="2799" y="1051">ilErrorHandling</text>
<text class="m" x="2705" y="1074"># $error_obj</text>
<text class="m" y="1096"><tspan x="2705">+ __construct()</tspan><tspan x="2705" dy="14.7">+ getHandler()</tspan><tspan x="2705" dy="14.7">+ errorHandler()</tspan><tspan x="2705" dy="14.7">+ getMessage()</tspan><tspan x="2705" dy="14.7">+ setMessage()</tspan><tspan x="2705" dy="14.7">+ appendMessage()</tspan><tspan x="2705" dy="14.7">+ handlePreWhoops()</tspan><tspan x="2705" dy="14.7"># initWhoopsHandlers()</tspan><tspan x="2705" dy="14.7"># getIlRuntime()</tspan><tspan x="2705" dy="14.7"># getWhoops()</tspan><tspan x="2705" dy="14.7"># isDevmodeActive()</tspan><tspan x="2705" dy="14.7"># defaultHandler()</tspan><tspan x="2705" dy="14.7"># devmodeHandler()</tspan><tspan x="2705" dy="14.7"># addEditorSupport()</tspan><tspan x="2705" dy="14.7"># applyEditorPathTranslations()</tspan><tspan x="2705" dy="14.7"># parseEditorPathTranslation()</tspan></text></g>

<g id="ilComponentRepository"><rect class="b" x="3514" y="1055" width="230" height="246"/><path class="sep" d="M3514,1080h230M3514,1102h230"/><text class="t" x="3629" y="1072">ilComponentRepository</text>
<text class="m" y="1116"><tspan x="3522">+ hasComponent()</tspan><tspan x="3522" dy="14.7">+ hasComponentId()</tspan><tspan x="3522" dy="14.7">+ getComponents()</tspan><tspan x="3522" dy="14.7">+ getComponentById()</tspan><tspan x="3522" dy="14.7">+ getComponentByTypeAndName()</tspan><tspan x="3522" dy="14.7">+ hasPluginSlotId()</tspan><tspan x="3522" dy="14.7">+ getPluginSlots()</tspan><tspan x="3522" dy="14.7">+ getPluginSlotById()</tspan><tspan x="3522" dy="14.7">+ hasPluginId()</tspan><tspan x="3522" dy="14.7">+ getPlugins()</tspan><tspan x="3522" dy="14.7">+ getPluginById()</tspan><tspan x="3522" dy="14.7">+ getPluginByName()</tspan><tspan x="3522" dy="14.7">+ hasActivatedPlugin()</tspan></text></g>

<g id="ilDBInterface"><rect class="b" x="4290" y="388" width="235" height="246"/><path class="sep" d="M4290,413h235M4290,435h235"/><text class="t" x="4407" y="405">ilDBInterface</text>
<text class="m" y="449"><tspan x="4298">+ doesCollationSupportMB4Strings()</tspan><tspan x="4298" dy="14.7">+ sanitizeMB4StringIfNotSupported()</tspan><tspan x="4298" dy="14.7">+ initFromIniFile()</tspan><tspan x="4298" dy="14.7">+ connect()</tspan><tspan x="4298" dy="14.7">+ nextId()</tspan><tspan x="4298" dy="14.7">+ createTable()</tspan><tspan x="4298" dy="14.7">+ addPrimaryKey()</tspan><tspan x="4298" dy="14.7">+ createSequence()</tspan><tspan x="4298" dy="14.7">+ getSequenceName()</tspan><tspan x="4298" dy="14.7">+ tableExists()</tspan><tspan x="4298" dy="14.7">and 74 more...</tspan><tspan x="4298" dy="14.7">+ getReservedWords()</tspan><tspan x="4298" dy="14.7">+ isReservedWord()</tspan></text></g>

<g id="ilComponentFactory"><rect class="b" x="3952" y="1136" width="176" height="84"/><path class="sep" d="M3952,1161h176M3952,1183h176"/><text class="t" x="4040" y="1153">ilComponentFactory</text>
<text class="m" y="1197"><tspan x="3960">+ getPlugin()</tspan><tspan x="3960" dy="14.7">+ getActivePluginsInSlot()</tspan></text></g>

<g id="ilLogger"><rect class="b" x="4509" y="1070" width="111" height="217"/><path class="sep" d="M4509,1095h111M4509,1117h111"/><text class="t" x="4564" y="1087">ilLogger</text>
<text class="m" y="1131"><tspan x="4517">+ __construct()</tspan><tspan x="4517" dy="14.7">+ isHandling()</tspan><tspan x="4517" dy="14.7">+ log()</tspan><tspan x="4517" dy="14.7">+ dump()</tspan><tspan x="4517" dy="14.7">+ debug()</tspan><tspan x="4517" dy="14.7">+ info()</tspan><tspan x="4517" dy="14.7">+ notice()</tspan><tspan x="4517" dy="14.7">+ warning()</tspan><tspan x="4517" dy="14.7">+ error()</tspan><tspan x="4517" dy="14.7">+ critical()</tspan><tspan x="4517" dy="14.7">and 7 more...</tspan></text></g>

<g id="ilGlobalCache"><rect class="b" x="1035" y="917" width="206" height="555"/><path class="sep" d="M1035,942h206M1035,1038h206"/><text class="t" x="1138" y="934">ilGlobalCache</text>
<text class="m" y="956"><tspan x="1043">+ TYPE_MEMCACHED</tspan><tspan x="1043" dy="14.7">+ TYPE_FALLBACK</tspan><tspan x="1043" dy="14.7">+ COMP_CLNG</tspan><tspan x="1043" dy="14.7">+ COMP_RBAC_UA</tspan><tspan x="1043" dy="14.7">+ COMP_EVENTS</tspan><tspan x="1043" dy="14.7">+ COMP_TPL_BLOCKS</tspan></text>
<text class="m" y="1052"><tspan x="1043">+ isActive()</tspan><tspan x="1043" dy="14.7">+ isValid()</tspan><tspan x="1043" dy="14.7">+ isInstallable()</tspan><tspan x="1043" dy="14.7">+ isCacheServiceInstallable()</tspan><tspan x="1043" dy="14.7">+ getInstallationFailureReason()</tspan><tspan x="1043" dy="14.7">+ exists()</tspan><tspan x="1043" dy="14.7">+ set()</tspan><tspan x="1043" dy="14.7">+ get()</tspan><tspan x="1043" dy="14.7">+ delete()</tspan><tspan x="1043" dy="14.7">+ flush()</tspan><tspan x="1043" dy="14.7">and 7 more...</tspan><tspan x="1043" dy="14.7">+ setup()</tspan><tspan x="1043" dy="14.7">+ getInstance()</tspan><tspan x="1043" dy="14.7">+ log()</tspan><tspan x="1043" dy="14.7">+ getAllInstallableTypes()</tspan><tspan x="1043" dy="14.7">+ getAllTypes()</tspan><tspan x="1043" dy="14.7">+ lookupServiceClassName()</tspan><tspan x="1043" dy="14.7">+ lookupServiceConfigName()</tspan><tspan x="1043" dy="14.7">+ getSettings()</tspan><tspan x="1043" dy="14.7">+ setSettings()</tspan><tspan x="1043" dy="14.7">+ getActiveComponents()</tspan><tspan x="1043" dy="14.7">+ setActiveComponents()</tspan><tspan x="1043" dy="14.7">+ getAvailableComponents()</tspan><tspan x="1043" dy="14.7">+ setAvailableComponents()</tspan><tspan x="1043" dy="14.7"># __construct()</tspan><tspan x="1043" dy="14.7"># checkSettings()</tspan><tspan x="1043" dy="14.7"># generateServiceId()</tspan></text></g>

<g id="ilSetting"><rect class="b" x="1647" y="1048" width="158" height="261"/><path class="sep" d="M1647,1073h158M1647,1095h158"/><text class="t" x="1726" y="1065">ilSetting</text>
<text class="m" y="1109"><tspan x="1655">+ __construct()</tspan><tspan x="1655" dy="14.7">+ getModule()</tspan><tspan x="1655" dy="14.7">+ read()</tspan><tspan x="1655" dy="14.7">+ get()</tspan><tspan x="1655" dy="14.7">+ deleteAll()</tspan><tspan x="1655" dy="14.7">+ deleteLike()</tspan><tspan x="1655" dy="14.7">+ delete()</tspan><tspan x="1655" dy="14.7">+ getAll()</tspan><tspan x="1655" dy="14.7">+ set()</tspan><tspan x="1655" dy="14.7">+ setScormDebug()</tspan><tspan x="1655" dy="14.7">+ _lookupValue()</tspan><tspan x="1655" dy="14.7">+ _getValueType()</tspan><tspan x="1655" dy="14.7">+ _changeValueType()</tspan><tspan x="1655" dy="14.7">+ _getLongerSettings()</tspan></text></g>

<g id="ilCachedLanguage"><rect class="b" x="1103" y="1761" width="139" height="261"/><path class="sep" d="M1103,1786h139M1103,1808h139"/><text class="t" x="1172" y="1778">ilCachedLanguage</text>
<text class="m" y="1822"><tspan x="1111">+ isActive()</tspan><tspan x="1111" dy="14.7">+ writeToCache()</tspan><tspan x="1111" dy="14.7">+ deleteInCache()</tspan><tspan x="1111" dy="14.7">+ flush()</tspan><tspan x="1111" dy="14.7">+ setLanguageKey()</tspan><tspan x="1111" dy="14.7">+ getLanguageKey()</tspan><tspan x="1111" dy="14.7">+ setLoaded()</tspan><tspan x="1111" dy="14.7">+ getLoaded()</tspan><tspan x="1111" dy="14.7">+ setTranslations()</tspan><tspan x="1111" dy="14.7">+ getTranslations()</tspan><tspan x="1111" dy="14.7">+ getInstance()</tspan><tspan x="1111" dy="14.7"># __construct()</tspan><tspan x="1111" dy="14.7"># readFromCache()</tspan><tspan x="1111" dy="14.7"># readFromDB()</tspan></text></g>

<g id="ILIAS"><rect class="b" x="1415" y="1775" width="139" height="232"/><path class="sep" d="M1415,1800h139M1415,1882h139"/><text class="t" x="1484" y="1792">ILIAS</text>
<text class="m" y="1814"><tspan x="1423">+ $account</tspan><tspan x="1423" dy="14.7">+ $ini</tspan><tspan x="1423" dy="14.7">+ $ini_ilias</tspan><tspan x="1423" dy="14.7">+ $db</tspan><tspan x="1423" dy="14.7">+ $error_obj</tspan></text>
<text class="m" y="1896"><tspan x="1423">+ __construct()</tspan><tspan x="1423" dy="14.7">+ getSetting()</tspan><tspan x="1423" dy="14.7">+ deleteSetting()</tspan><tspan x="1423" dy="14.7">+ getAllSettings()</tspan><tspan x="1423" dy="14.7">+ setSetting()</tspan><tspan x="1423" dy="14.7">+ getClientId()</tspan><tspan x="1423" dy="14.7">+ raiseError()</tspan><tspan x="1423" dy="14.7"># getSettingObject()</tspan></text></g>

<g id="ilLanguage"><rect class="b" x="1536" y="2326" width="179" height="320"/><path class="sep" d="M1536,2351h179M1536,2373h179"/><text class="t" x="1625" y="2343">ilLanguage</text>
<text class="m" y="2387"><tspan x="1544">+ __construct()</tspan><tspan x="1544" dy="14.7">+ getLangKey()</tspan><tspan x="1544" dy="14.7">+ getDefaultLanguage()</tspan><tspan x="1544" dy="14.7">+ getTextDirection()</tspan><tspan x="1544" dy="14.7">+ getContentLanguage()</tspan><tspan x="1544" dy="14.7">+ txtlng()</tspan><tspan x="1544" dy="14.7">+ txt()</tspan><tspan x="1544" dy="14.7">+ exists()</tspan><tspan x="1544" dy="14.7">+ loadLanguageModule()</tspan><tspan x="1544" dy="14.7">+ getInstalledLanguages()</tspan><tspan x="1544" dy="14.7">and 7 more...</tspan><tspan x="1544" dy="14.7">+ _getInstalledLanguages()</tspan><tspan x="1544" dy="14.7">+ _lookupEntry()</tspan><tspan x="1544" dy="14.7">+ lookupId()</tspan><tspan x="1544" dy="14.7">+ getFallbackInstance()</tspan><tspan x="1544" dy="14.7">+ getGlobalInstance()</tspan><tspan x="1544" dy="14.7"># logUsage()</tspan><tspan x="1544" dy="14.7"># isUsageLogEnabled()</tspan></text></g>

<g id="ilObjectDefinition"><rect class="b" x="2819" y="1709" width="219" height="364"/><path class="sep" d="M2819,1734h219M2819,1756h219"/><text class="t" x="2928" y="1726">ilObjectDefinition</text>
<text class="m" y="1770"><tspan x="2827">+ __construct()</tspan><tspan x="2827" dy="14.7">+ readDefinitionData()</tspan><tspan x="2827" dy="14.7">+ getClassName()</tspan><tspan x="2827" dy="14.7">+ getLocation()</tspan><tspan x="2827" dy="14.7">+ getGroup()</tspan><tspan x="2827" dy="14.7">+ getGroupOfObj()</tspan><tspan x="2827" dy="14.7">+ hasCheckbox()</tspan><tspan x="2827" dy="14.7">+ getTranslationType()</tspan><tspan x="2827" dy="14.7">+ stopInheritance()</tspan><tspan x="2827" dy="14.7">+ getDevMode()</tspan><tspan x="2827" dy="14.7">and 38 more...</tspan><tspan x="2827" dy="14.7">+ getRepositoryObjectTypes</tspan><tspan x="2827" dy="14.7">ForComponent()</tspan><tspan x="2827" dy="14.7">+ getComponentForType()</tspan><tspan x="2827" dy="14.7">+ getGroupedRepositoryObject</tspan><tspan x="2827" dy="14.7">Types()</tspan><tspan x="2827" dy="14.7"># readDefinitionDataFromCache()</tspan><tspan x="2827" dy="14.7"># readDefinitionDataFromDB()</tspan><tspan x="2827" dy="14.7"># readPluginData()</tspan><tspan x="2827" dy="14.7"># parsePluginData()</tspan><tspan x="2827" dy="14.7"># getGroupedPluginObjectTypes()</tspan></text></g>

<g id="ilRbacReview"><rect class="b" x="3613" y="1672" width="220" height="437"/><path class="sep" d="M3613,1697h220M3613,1719h220"/><text class="t" x="3723" y="1689">ilRbacReview</text>
<text class="m" y="1733"><tspan x="3621">+ __construct()</tspan><tspan x="3621" dy="14.7">+ roleExists()</tspan><tspan x="3621" dy="14.7">+ getParentRoleIds()</tspan><tspan x="3621" dy="14.7">+ getRoleListByObject()</tspan><tspan x="3621" dy="14.7">+ getAssignableRoles()</tspan><tspan x="3621" dy="14.7">+ getAssignableRolesInSubtree()</tspan><tspan x="3621" dy="14.7">+ getAssignableChildRoles()</tspan><tspan x="3621" dy="14.7">+ getNumberOfAssignedUsers()</tspan><tspan x="3621" dy="14.7">+ assignedUsers()</tspan><tspan x="3621" dy="14.7">+ isAssigned()</tspan><tspan x="3621" dy="14.7">and 43 more...</tspan><tspan x="3621" dy="14.7">+ _getOperationIdsByName()</tspan><tspan x="3621" dy="14.7">+ _getOperationIdByName()</tspan><tspan x="3621" dy="14.7">+ lookupCreateOperationIds()</tspan><tspan x="3621" dy="14.7">+ _getOperationList()</tspan><tspan x="3621" dy="14.7">+ _groupOperationsByClass()</tspan><tspan x="3621" dy="14.7">+ _getCustomRBACOperationId()</tspan><tspan x="3621" dy="14.7">+ _isRBACOperation()</tspan><tspan x="3621" dy="14.7"># __getParentRoles()</tspan><tspan x="3621" dy="14.7"># __setTemplateFilter()</tspan><tspan x="3621" dy="14.7"># __setRoleType()</tspan><tspan x="3621" dy="14.7"># __setProtectedStatus()</tspan><tspan x="3621" dy="14.7">- getAssignableRolesGenerator()</tspan><tspan x="3621" dy="14.7">- setRoleTypeAndProtection()</tspan><tspan x="3621" dy="14.7">- buildRoleType()</tspan><tspan x="3621" dy="14.7">- buildProtectionByStringValue()</tspan></text></g>

<g id="ilAppEventHandler"><rect class="b" x="3907" y="1840" width="131" height="99"/><path class="sep" d="M3907,1865h131M3907,1887h131"/><text class="t" x="3972" y="1857">ilAppEventHandler</text>
<text class="m" y="1901"><tspan x="3915">+ __construct()</tspan><tspan x="3915" dy="14.7">+ raise()</tspan><tspan x="3915" dy="14.7"># initListeners()</tspan></text></g>

<g id="ilTreeImplementation"><rect class="b" x="4248" y="1783" width="180" height="217"/><path class="sep" d="M4248,1808h180M4248,1830h180"/><text class="t" x="4338" y="1800">ilTreeImplementation</text>
<text class="m" y="1844"><tspan x="4256">+ getSubTreeIds()</tspan><tspan x="4256" dy="14.7">+ getSubTreeQuery()</tspan><tspan x="4256" dy="14.7">+ getTrashSubTreeQuery()</tspan><tspan x="4256" dy="14.7">+ getRelation()</tspan><tspan x="4256" dy="14.7">+ getPathIds()</tspan><tspan x="4256" dy="14.7">+ insertNode()</tspan><tspan x="4256" dy="14.7">+ deleteTree()</tspan><tspan x="4256" dy="14.7">+ moveToTrash()</tspan><tspan x="4256" dy="14.7">+ moveTree()</tspan><tspan x="4256" dy="14.7">+ getSubtreeInfo()</tspan><tspan x="4256" dy="14.7">+ validateParentRelations()</tspan></text></g>

<g id="ilTree"><rect class="b" x="4054" y="2333" width="196" height="306"/><path class="sep" d="M4054,2358h196M4054,2381h196"/><text class="t" x="4152" y="2350">ilTree</text>
<text class="m" x="4062" y="2373"># DEFAULT_GAP</text>
<text class="m" y="2395"><tspan x="4062">+ __construct()</tspan><tspan x="4062" dy="14.7">+ initTreeImplementation()</tspan><tspan x="4062" dy="14.7">+ getTreeImplementation()</tspan><tspan x="4062" dy="14.7">+ useCache()</tspan><tspan x="4062" dy="14.7">+ isCacheUsed()</tspan><tspan x="4062" dy="14.7">+ getDepthCache()</tspan><tspan x="4062" dy="14.7">+ getParentCache()</tspan><tspan x="4062" dy="14.7">+ initLangCode()</tspan><tspan x="4062" dy="14.7">+ getTreeTable()</tspan><tspan x="4062" dy="14.7">+ getObjectDataTable()</tspan><tspan x="4062" dy="14.7">and 69 more...</tspan><tspan x="4062" dy="14.7">+ lookupTreesForNode()</tspan><tspan x="4062" dy="14.7">+ _removeEntry()</tspan><tspan x="4062" dy="14.7"># getLangCode()</tspan><tspan x="4062" dy="14.7"># fetchTranslationFromObject</tspan><tspan x="4062" dy="14.7">DataCache()</tspan><tspan x="4062" dy="14.7">- __renumber()</tspan></text></g>

<g id="ilRbacAdmin"><rect class="b" x="4379" y="2362" width="189" height="246"/><path class="sep" d="M4379,2387h189M4379,2409h189"/><text class="t" x="4473" y="2379">ilRbacAdmin</text>
<text class="m" y="2423"><tspan x="4387">+ __construct()</tspan><tspan x="4387" dy="14.7">+ setBlockedStatus()</tspan><tspan x="4387" dy="14.7">+ removeUser()</tspan><tspan x="4387" dy="14.7">+ deleteRole()</tspan><tspan x="4387" dy="14.7">+ deleteTemplate()</tspan><tspan x="4387" dy="14.7">+ deleteLocalRole()</tspan><tspan x="4387" dy="14.7">+ assignUserLimited()</tspan><tspan x="4387" dy="14.7">+ assignUser()</tspan><tspan x="4387" dy="14.7">+ deassignUser()</tspan><tspan x="4387" dy="14.7">+ grantPermission()</tspan><tspan x="4387" dy="14.7">and 18 more...</tspan><tspan x="4387" dy="14.7"># applyMovedObjectDidactic</tspan><tspan x="4387" dy="14.7">Templates()</tspan></text></g>

<g id="php4DOMNode"><rect class="b" x="5499" y="2913" width="128" height="218"/><path class="sep" d="M5499,2938h128M5499,2961h128"/><text class="t" x="5563" y="2930">php4DOMNode</text>
<text class="m" x="5507" y="2953">+ $myDOMNode</text>
<text class="m" y="2975"><tspan x="5507">+ __construct()</tspan><tspan x="5507" dy="14.7">+ append_child()</tspan><tspan x="5507" dy="14.7">+ replace_node()</tspan><tspan x="5507" dy="14.7">+ append_sibling()</tspan><tspan x="5507" dy="14.7">+ attributes()</tspan><tspan x="5507" dy="14.7">+ child_nodes()</tspan><tspan x="5507" dy="14.7">+ children()</tspan><tspan x="5507" dy="14.7">+ unlink_node()</tspan><tspan x="5507" dy="14.7">+ clone_node()</tspan><tspan x="5507" dy="14.7">+ first_child()</tspan><tspan x="5507" dy="14.7">and 14 more...</tspan></text></g>

<g id="php4DOMElement"><rect class="b" x="5464" y="3669" width="199" height="202"/><path class="sep" d="M5464,3694h199M5464,3716h199"/><text class="t" x="5563" y="3686">php4DOMElement</text>
<text class="m" y="3730"><tspan x="5472">+ get_attribute()</tspan><tspan x="5472" dy="14.7">+ owner_document()</tspan><tspan x="5472" dy="14.7">+ get_elements_by_tagname()</tspan><tspan x="5472" dy="14.7">+ has_attribute()</tspan><tspan x="5472" dy="14.7">+ remove_attribute()</tspan><tspan x="5472" dy="14.7">+ set_attribute()</tspan><tspan x="5472" dy="14.7">+ tagname()</tspan><tspan x="5472" dy="14.7">+ set_content()</tspan><tspan x="5472" dy="14.7">+ get_content()</tspan><tspan x="5472" dy="14.7">+ unlink()</tspan></text></g>

<g id="ilPageConfig"><rect class="b" x="1739" y="2818" width="195" height="408"/><path class="sep" d="M1739,2843h195M1739,3057h195"/><text class="t" x="1836" y="2835">ilPageConfig</text>
<text class="m" y="2857"><tspan x="1747"># $int_link_def_id_is_ref</tspan><tspan x="1747" dy="14.7"># $prevent_rte_usage</tspan><tspan x="1747" dy="14.7"># $enabledinternallinks</tspan><tspan x="1747" dy="14.7"># $enable_keywords</tspan><tspan x="1747" dy="14.7"># $enablewikilinks</tspan><tspan x="1747" dy="14.7"># $activation</tspan><tspan x="1747" dy="14.7"># $scheduled_activation</tspan><tspan x="1747" dy="14.7"># $enabledselfassessment</tspan><tspan x="1747" dy="14.7">_scorm</tspan><tspan x="1747" dy="14.7"># $multi_lang_support</tspan><tspan x="1747" dy="14.7"># $single_page_mode</tspan><tspan x="1747" dy="14.7"># $disable_default_qfeedback</tspan><tspan x="1747" dy="14.7"># $enable_permission</tspan><tspan x="1747" dy="14.7">_checks</tspan></text>
<text class="m" y="3071"><tspan x="1747">+ __construct()</tspan><tspan x="1747" dy="14.7">+ init()</tspan><tspan x="1747" dy="14.7">+ setEnablePCType()</tspan><tspan x="1747" dy="14.7">+ getEnablePCType()</tspan><tspan x="1747" dy="14.7">+ getEnabledTopPCTypes()</tspan><tspan x="1747" dy="14.7">+ setEnableKeywords()</tspan><tspan x="1747" dy="14.7">+ getEnableKeywords()</tspan><tspan x="1747" dy="14.7">+ setEnableAnchors()</tspan><tspan x="1747" dy="14.7">+ getEnableAnchors()</tspan><tspan x="1747" dy="14.7">+ setEnableInternalLinks()</tspan><tspan x="1747" dy="14.7">and 51 more...</tspan></text></g>

<g id="ilObject"><rect class="b" x="2841" y="2715" width="226" height="614"/><path class="sep" d="M2841,2740h226M2841,2762h226"/><text class="t" x="2954" y="2732">ilObject</text>
<text class="m" y="2776"><tspan x="2849">+ __construct()</tspan><tspan x="2849" dy="14.7">+ withReferences()</tspan><tspan x="2849" dy="14.7">+ processAutoRating()</tspan><tspan x="2849" dy="14.7">+ read()</tspan><tspan x="2849" dy="14.7">+ getId()</tspan><tspan x="2849" dy="14.7">+ setId()</tspan><tspan x="2849" dy="14.7">+ setRefId()</tspan><tspan x="2849" dy="14.7">+ getRefId()</tspan><tspan x="2849" dy="14.7">+ getType()</tspan><tspan x="2849" dy="14.7">+ setType()</tspan><tspan x="2849" dy="14.7">and 39 more...</tspan><tspan x="2849" dy="14.7">+ _lookupObjIdByImportId()</tspan><tspan x="2849" dy="14.7">+ _lookupImportId()</tspan><tspan x="2849" dy="14.7">+ _lookupOwnerName()</tspan><tspan x="2849" dy="14.7">+ _getIdForImportId()</tspan><tspan x="2849" dy="14.7">+ _getAllReferences()</tspan><tspan x="2849" dy="14.7">+ _lookupTitle()</tspan><tspan x="2849" dy="14.7">+ lookupOfflineStatus()</tspan><tspan x="2849" dy="14.7">+ _lookupOwner()</tspan><tspan x="2849" dy="14.7">+ _getIdsForTitle()</tspan><tspan x="2849" dy="14.7">+ _lookupDescription()</tspan><tspan x="2849" dy="14.7">and 26 more...</tspan><tspan x="2849" dy="14.7"># doMDUpdateListener()</tspan><tspan x="2849" dy="14.7"># beforeMDUpdateListener()</tspan><tspan x="2849" dy="14.7"># doCreateMetaData()</tspan><tspan x="2849" dy="14.7"># beforeCreateMetaData()</tspan><tspan x="2849" dy="14.7"># doUpdateMetaData()</tspan><tspan x="2849" dy="14.7"># beforeUpdateMetaData()</tspan><tspan x="2849" dy="14.7"># doDeleteMetaData()</tspan><tspan x="2849" dy="14.7"># beforeDeleteMetaData()</tspan><tspan x="2849" dy="14.7"># handleAutoRating()</tspan><tspan x="2849" dy="14.7"># hasAutoRating()</tspan><tspan x="2849" dy="14.7">- appendCopyInfoToTranslations()</tspan><tspan x="2849" dy="14.7">- getCallbackForTitlesPerLanguage</tspan><tspan x="2849" dy="14.7">Transformation()</tspan><tspan x="2849" dy="14.7">- appendNumberOfCopiesToTitle()</tspan><tspan x="2849" dy="14.7">- isTitleUnique()</tspan><tspan x="2849" dy="14.7">- buildTitleWithoutCopySuffix()</tspan></text></g>

<g id="ilObjUser"><rect class="b" x="2483" y="3398" width="202" height="761"/><path class="sep" d="M2483,3423h202M2483,3740h202"/><text class="t" x="2584" y="3415">ilObjUser</text>
<text class="m" y="3437"><tspan x="2491">+ $login</tspan><tspan x="2491" dy="14.7">+ $gender</tspan><tspan x="2491" dy="14.7">+ $utitle</tspan><tspan x="2491" dy="14.7">+ $firstname</tspan><tspan x="2491" dy="14.7">+ $lastname</tspan><tspan x="2491" dy="14.7">+ $fullname</tspan><tspan x="2491" dy="14.7">+ $department</tspan><tspan x="2491" dy="14.7">+ $street</tspan><tspan x="2491" dy="14.7">+ $city</tspan><tspan x="2491" dy="14.7">+ $country</tspan><tspan x="2491" dy="14.7">and 12 more...</tspan><tspan x="2491" dy="14.7"># $time_limit_message</tspan><tspan x="2491" dy="14.7"># $last_login</tspan><tspan x="2491" dy="14.7"># $passwd</tspan><tspan x="2491" dy="14.7"># $password_encoding_type</tspan><tspan x="2491" dy="14.7"># $password_salt</tspan><tspan x="2491" dy="14.7"># $birthday</tspan><tspan x="2491" dy="14.7"># $second_email</tspan><tspan x="2491" dy="14.7"># $inactivation_date</tspan><tspan x="2491" dy="14.7"># $org_units</tspan><tspan x="2491" dy="14.7"># $last_profile_prompt</tspan></text>
<text class="m" y="3754"><tspan x="2491">+ __construct()</tspan><tspan x="2491" dy="14.7">+ read()</tspan><tspan x="2491" dy="14.7">+ getPasswordEncodingType()</tspan><tspan x="2491" dy="14.7">+ setPasswordEncodingType()</tspan><tspan x="2491" dy="14.7">+ getPasswordSalt()</tspan><tspan x="2491" dy="14.7">+ setPasswordSalt()</tspan><tspan x="2491" dy="14.7">+ assignData()</tspan><tspan x="2491" dy="14.7">+ saveAsNew()</tspan><tspan x="2491" dy="14.7">+ update()</tspan><tspan x="2491" dy="14.7">+ writeAccepted()</tspan><tspan x="2491" dy="14.7">and 168 more...</tspan><tspan x="2491" dy="14.7">+ _lookupFullname()</tspan><tspan x="2491" dy="14.7">+ _lookupEmail()</tspan><tspan x="2491" dy="14.7">+ _lookupGender()</tspan><tspan x="2491" dy="14.7">+ _lookupClientIP()</tspan><tspan x="2491" dy="14.7">+ _lookupName()</tspan><tspan x="2491" dy="14.7">+ _lookupFields()</tspan><tspan x="2491" dy="14.7">+ _lookupLogin()</tspan><tspan x="2491" dy="14.7">+ _lookupExternalAccount()</tspan><tspan x="2491" dy="14.7">+ _lookupId()</tspan><tspan x="2491" dy="14.7">+ _lookupLastLogin()</tspan><tspan x="2491" dy="14.7">and 63 more...</tspan><tspan x="2491" dy="14.7"># buildTextFromArray()</tspan><tspan x="2491" dy="14.7"># readMultiTextFields()</tspan><tspan x="2491" dy="14.7"># deleteMultiTextFields()</tspan><tspan x="2491" dy="14.7">- _lookup()</tspan><tspan x="2491" dy="14.7">- getLoginFromAuth()</tspan></text></g>

<g id="ilPageObject"><rect class="b" x="2172" y="4212" width="235" height="497"/><path class="sep" d="M2172,4237h235M2172,4274h235"/><text class="t" x="2290" y="4229">ilPageObject</text>
<text class="m" y="4251"><tspan x="2180">+ $encoding</tspan><tspan x="2180" dy="14.7"># $concrete_lang</tspan></text>
<text class="m" y="4288"><tspan x="2180">+ __construct()</tspan><tspan x="2180" dy="14.7">+ afterConstructor()</tspan><tspan x="2180" dy="14.7">+ getParentType()</tspan><tspan x="2180" dy="14.7">+ initPageConfig()</tspan><tspan x="2180" dy="14.7">+ setLanguage()</tspan><tspan x="2180" dy="14.7">+ getLanguage()</tspan><tspan x="2180" dy="14.7">+ setPageConfig()</tspan><tspan x="2180" dy="14.7">+ setConcreteLang()</tspan><tspan x="2180" dy="14.7">+ getConcreteLang()</tspan><tspan x="2180" dy="14.7">+ getPageConfig()</tspan><tspan x="2180" dy="14.7">and 145 more...</tspan><tspan x="2180" dy="14.7">+ randomhash()</tspan><tspan x="2180" dy="14.7">+ _exists()</tspan><tspan x="2180" dy="14.7">+ _existsAndNotEmpty()</tspan><tspan x="2180" dy="14.7">+ preloadActivationDataByParentId()</tspan><tspan x="2180" dy="14.7">+ _lookupActive()</tspan><tspan x="2180" dy="14.7">+ _isScheduledActivation()</tspan><tspan x="2180" dy="14.7">+ _writeActive()</tspan><tspan x="2180" dy="14.7">+ _lookupActivationData()</tspan><tspan x="2180" dy="14.7">+ lookupParentId()</tspan><tspan x="2180" dy="14.7">+ _writeParentId()</tspan><tspan x="2180" dy="14.7">and 12 more...</tspan><tspan x="2180" dy="14.7"># getLangVarXML()</tspan><tspan x="2180" dy="14.7"># __afterUpdate()</tspan><tspan x="2180" dy="14.7"># __beforeDelete()</tspan><tspan x="2180" dy="14.7"># __afterDelete()</tspan><tspan x="2180" dy="14.7"># afterDelete()</tspan><tspan x="2180" dy="14.7"># __afterHistoryEntry()</tspan><tspan x="2180" dy="14.7"># preparePageForCompare()</tspan></text></g>

<g id="ilLMPage"><rect x="795" y="4765" width="193" height="143" fill="#bfbfbf" stroke="#000" stroke-width="1.5"/><path class="sep" d="M795,4790h193M795,4812h193"/><text class="t" x="891" y="4782">ilLMPage</text>
<text class="m" y="4826"><tspan x="803">+ getParentType()</tspan><tspan x="803" dy="14.7">+ afterConstructor()</tspan><tspan x="803" dy="14.7">+ beforePageContentUpdate()</tspan><tspan x="803" dy="14.7">+ afterUpdate()</tspan><tspan x="803" dy="14.7">+ createWithLayoutId()</tspan><tspan x="803" dy="14.7"># afterDelete()</tspan></text></g>
</svg>
